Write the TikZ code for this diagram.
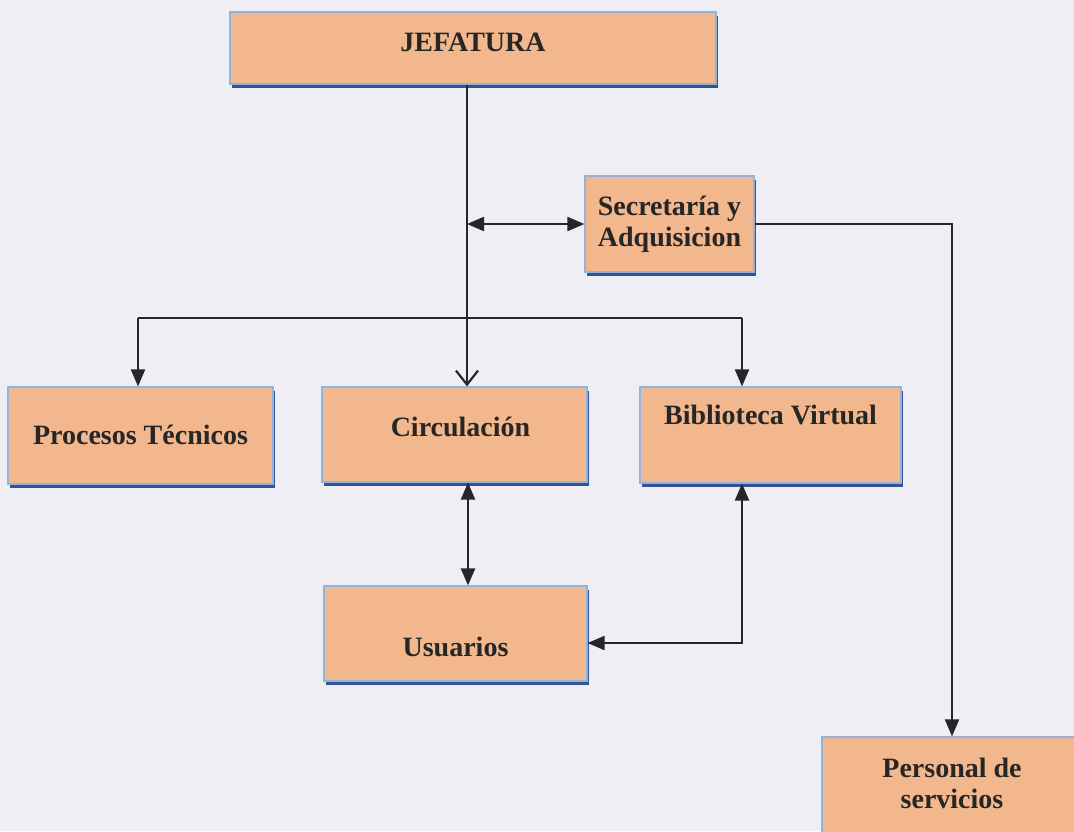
\documentclass[tikz,border=0pt]{standalone}
\usepackage{fontspec}
\setmainfont{Liberation Serif}
\usetikzlibrary{arrows.meta,shadows}
\definecolor{bgc}{HTML}{EEEEF4}
\definecolor{boxfill}{HTML}{F2B78D}
\definecolor{boxline}{HTML}{8FB4DD}
\definecolor{shad}{HTML}{34538F}
\definecolor{ink}{HTML}{262626}
\begin{document}
\begin{tikzpicture}[x=1pt,y=-1pt,
  orgbox/.style={rectangle, fill=boxfill, draw=boxline, line width=1.2pt, inner sep=0pt,
    drop shadow={shadow xshift=2pt, shadow yshift=-3.5pt, fill=shad, opacity=1}},
  lbl/.style={font=\fontsize{28}{31}\selectfont\bfseries, text=ink, align=center, inner sep=0pt},
  conn/.style={draw=ink, line width=2.2pt},
  tip/.tip={Triangle[length=17pt,width=14pt]},
  arr/.style={conn, -tip},
  dbl/.style={conn, tip-tip},
  openarr/.style={conn, -{Straight Barb[length=14pt,width=22pt,line width=2.2pt]}}
]
\useasboundingbox (0,0) rectangle (1074,831);
\fill[bgc] (0,0) rectangle (1074,831);

% boxes
\node[orgbox, minimum width=486pt, minimum height=72pt] (jef) at (473,48) {};
\node[orgbox, minimum width=169pt, minimum height=96pt] (sec) at (669.5,224) {};
\node[orgbox, minimum width=265pt, minimum height=97pt] (proc) at (140.5,435.5) {};
\node[orgbox, minimum width=265pt, minimum height=95pt] (circ) at (454.5,434.5) {};
\node[orgbox, minimum width=261pt, minimum height=96pt] (bib) at (770.5,435) {};
\node[orgbox, minimum width=263pt, minimum height=95pt] (usu) at (455.5,633.5) {};
\node[orgbox, minimum width=260pt, minimum height=96pt] (pers) at (952,785) {};

% labels
\node[lbl] (tjef) at (473,42) {JEFATURA};
\node[lbl] (tsec) at (669.5,224) {Secretaría y\\Adquisicion};
\node[lbl] (tproc) at (140.5,435) {Procesos Técnicos};
\node[lbl] (tcirc) at (460.5,427) {Circulación};
\node[lbl] (tbib) at (770.5,415) {Biblioteca Virtual};
\node[lbl] (tusu) at (455.5,647) {Usuarios};
\node[lbl] (tpers) at (952,783) {Personal de\\servicios};

% helper coordinates
\coordinate (tx) at (467,0);
\coordinate (barL) at (138,318);
\coordinate (barR) at (742,318);
\coordinate (ub) at (742,643);

% connectors
\draw[openarr] (jef.south -| tx) -- (circ.north -| tx);
\draw[dbl] (tx |- sec.west) -- (sec.west);
\draw[conn] (barL) -- (barR);
\draw[arr] (barL) -- (proc.north -| barL);
\draw[arr] (barR) -- (bib.north -| barR);
\draw[arr] (sec.east) -| (pers.north);
\draw[dbl] ([xshift=1pt]circ.south -| tx) -- ([xshift=1pt]usu.north -| tx);
\draw[dbl] (usu.east |- ub) -- (ub) -- (bib.south -| ub);
\end{tikzpicture}
\end{document}
